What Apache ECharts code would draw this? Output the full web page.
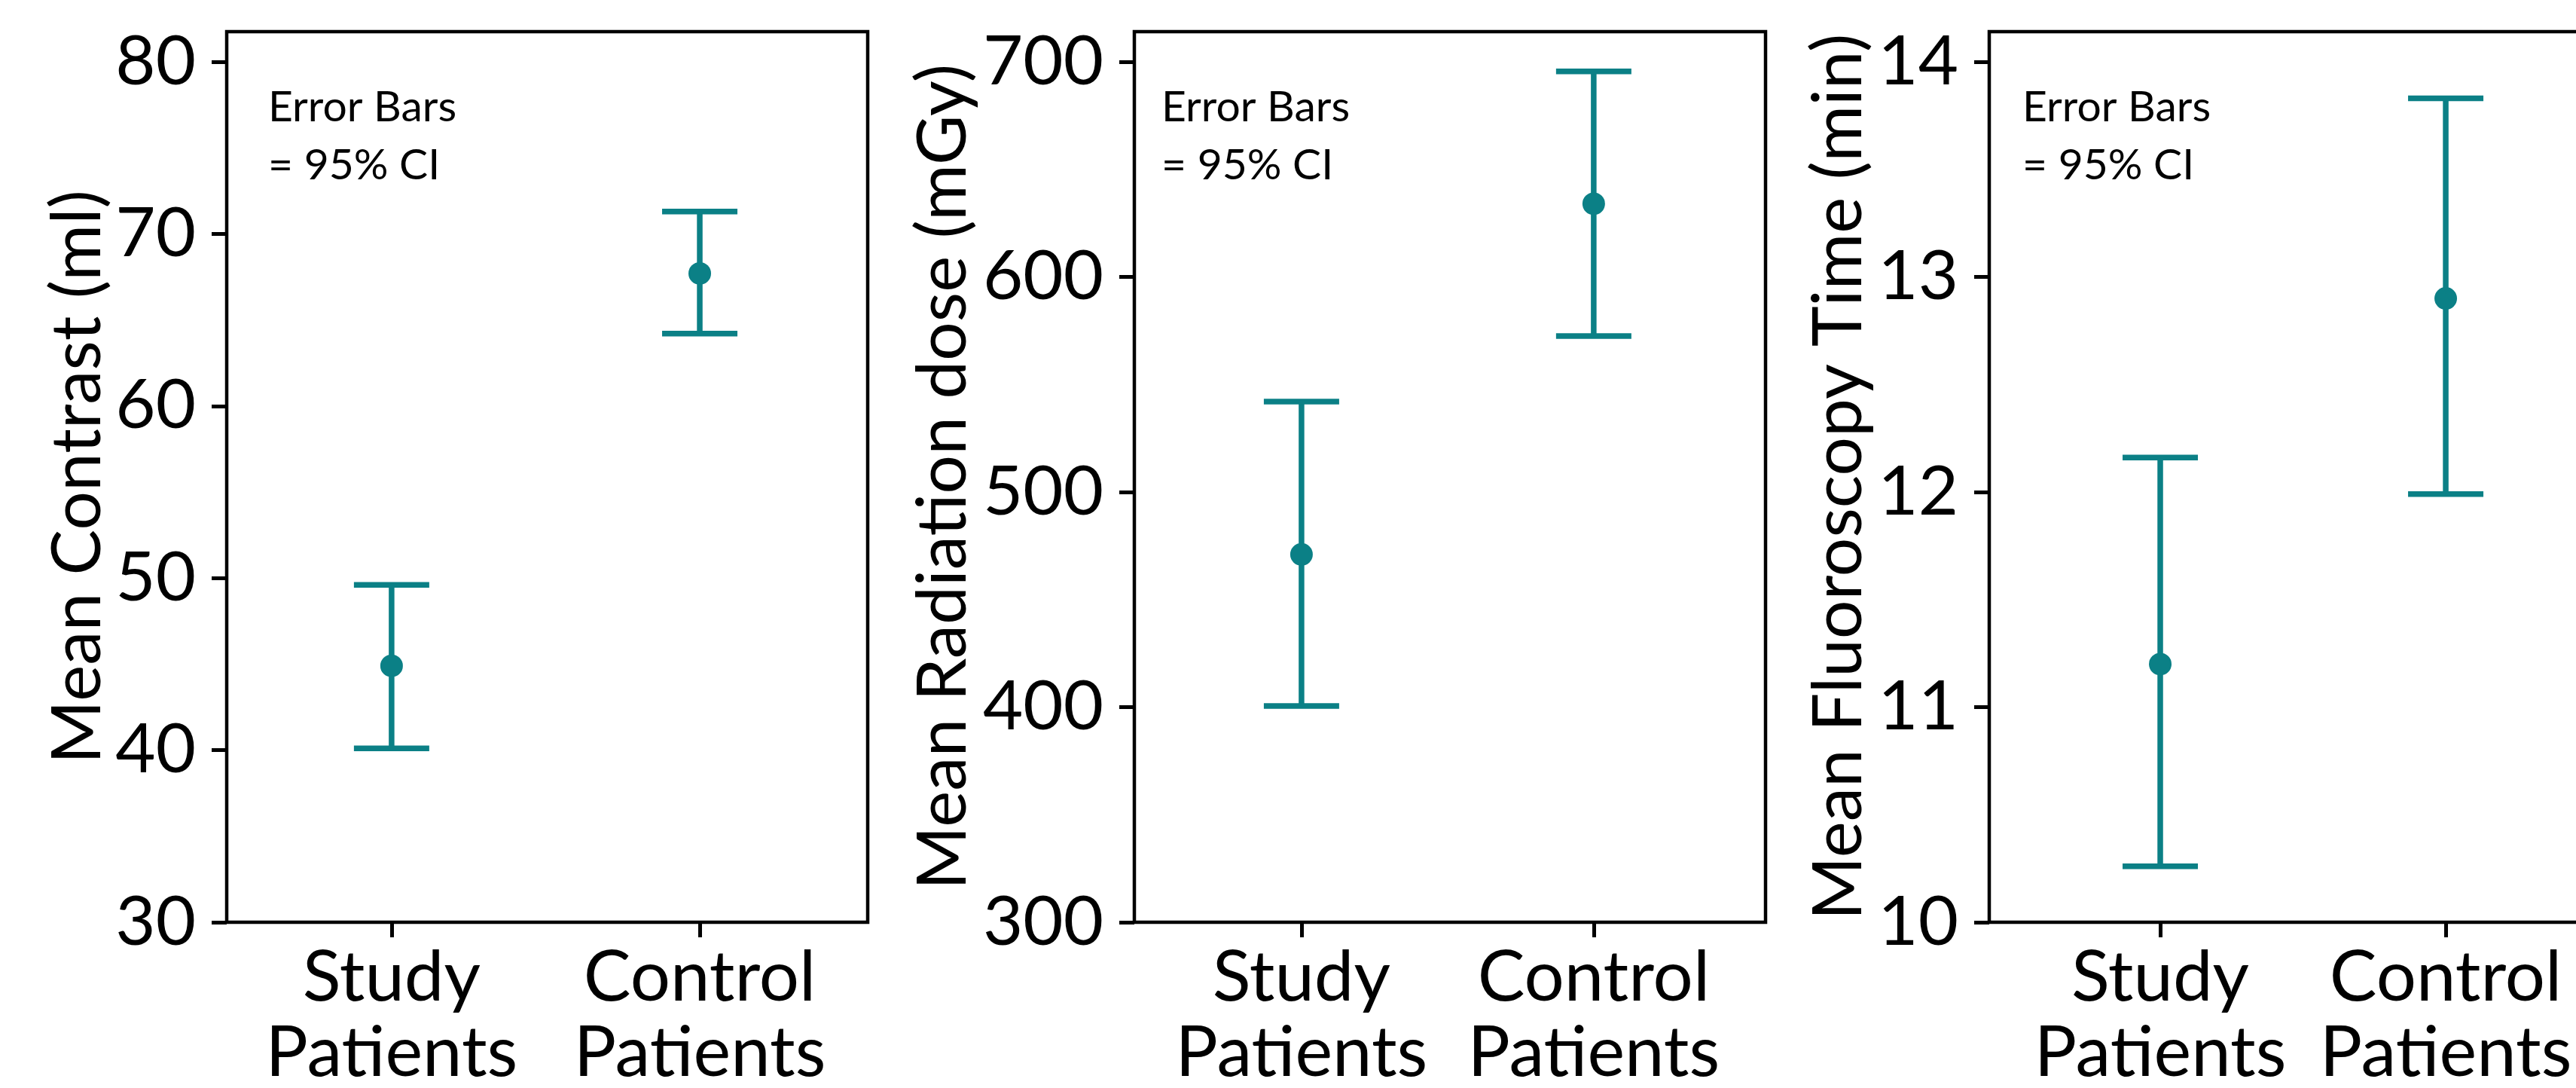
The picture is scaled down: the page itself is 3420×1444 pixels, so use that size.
<!DOCTYPE html>
<html>
<head>
<meta charset="utf-8">
<script src="https://cdn.jsdelivr.net/npm/echarts@6/dist/echarts.min.js"></script>
<style>
    html, body { margin: 0; padding: 0; background: #fff; }
    #chart { width: 3420px; height: 1444px; }
</style>
</head>
<body>
<div id="chart"></div>
<script>
// data ==========================================
const categories = ['Study\nPatients', 'Control\nPatients'];

const contrastMean = [44.9, 67.7];
const contrastLow = [40.1, 64.2];
const contrastHigh = [49.6, 71.3];
const contrastTicks = [30, 40, 50, 60, 70, 80];

const doseMean = [471, 634];
const doseLow = [400.5, 572.5];
const doseHigh = [542, 695.5];
const doseTicks = [300, 400, 500, 600, 700];

const fluoroMean = [11.2, 12.9];
const fluoroLow = [10.26, 11.99];
const fluoroHigh = [12.16, 13.83];
const fluoroTicks = [10, 11, 12, 13, 14];

const yNames = ['Mean Contrast (ml)', 'Mean Radiation dose (mGy)', 'Mean Fluoroscopy Time (min)'];
const noteText = 'Error Bars\n= 95% CI';

// style ==========================================
const TEAL = '#0b8086';
const FONT = 'Lato';
const CAP_HALF = 50;

function renderErrorBar(params, api) {
    const x = api.value(0);
    const lo = api.coord([x, api.value(1)]);
    const hi = api.coord([x, api.value(2)]);
    const style = { stroke: TEAL, lineWidth: 7.5, fill: null };
    return {
        type: 'group',
        children: [
            { type: 'line', shape: { x1: lo[0], y1: lo[1], x2: hi[0], y2: hi[1] }, style: style },
            { type: 'line', shape: { x1: hi[0] - CAP_HALF, y1: hi[1], x2: hi[0] + CAP_HALF, y2: hi[1] }, style: style },
            { type: 'line', shape: { x1: lo[0] - CAP_HALF, y1: lo[1], x2: lo[0] + CAP_HALF, y2: lo[1] }, style: style }
        ]
    };
}

// one panel = grid + axes + 2 series
function buildPanel(idx, layout, mean, low, high, ticks) {
    const grid = {
        left: layout.left, width: layout.width, top: 42, bottom: 220,
        outerBoundsMode: 'none', containLabel: false,
        show: true, borderColor: '#000', borderWidth: 4.5, backgroundColor: 'transparent'
    };
    const xAxis = {
        type: 'value', gridIndex: idx, min: layout.xMin, max: layout.xMax,
        axisLine: { show: false, onZero: false },
        splitLine: { show: false },
        axisTick: { show: true, customValues: [0, 1], length: 20, lineStyle: { color: '#000', width: 5 } },
        axisLabel: {
            customValues: [0, 1], margin: 24,
            formatter: v => categories[Math.round(v)] || '',
            color: '#000', fontFamily: FONT, fontSize: 94, lineHeight: 100
        }
    };
    const yAxis = {
        type: 'value', gridIndex: idx, min: layout.yMin, max: layout.yMax,
        name: yNames[idx], nameLocation: 'middle', nameGap: layout.nameGap,
        nameTextStyle: { color: '#000', fontFamily: FONT, fontSize: 91 },
        axisLine: { show: false, onZero: false },
        splitLine: { show: false },
        axisTick: { show: true, customValues: ticks, length: 20, lineStyle: { color: '#000', width: 5 } },
        axisLabel: {
            customValues: ticks, margin: 41,
            color: '#000', fontFamily: FONT, fontSize: 92
        }
    };
    const series = [{
        type: 'custom', xAxisIndex: idx, yAxisIndex: idx,
        renderItem: renderErrorBar,
        encode: { x: 0, y: [1, 2] },
        data: mean.map((m, i) => [i, low[i], high[i]]),
        z: 2
    }, {
        type: 'scatter', xAxisIndex: idx, yAxisIndex: idx,
        symbol: 'circle', symbolSize: 30,
        itemStyle: { color: TEAL, opacity: 1 },
        data: mean.map((m, i) => [i, m]),
        z: 3
    }];
    const note = {
        type: 'text', left: layout.left + layout.noteX, top: 104,
        style: {
            text: noteText, fill: '#000', font: '57px ' + FONT,
            lineHeight: 77
        }
    };
    return { grid, xAxis, yAxis, series, note };
}

const panels = [
    buildPanel(0, { left: 301, width: 851, xMin: -0.535, xMax: 1.545, yMin: 30, yMax: 81.75, nameGap: 150, noteX: 55 },
        contrastMean, contrastLow, contrastHigh, contrastTicks),
    buildPanel(1, { left: 1506, width: 838, xMin: -0.572, xMax: 1.588, yMin: 300, yMax: 714, nameGap: 208, noteX: 36 },
        doseMean, doseLow, doseHigh, doseTicks),
    buildPanel(2, { left: 2641, width: 838, xMin: -0.599, xMax: 1.612, yMin: 10, yMax: 14.14, nameGap: 154, noteX: 44 },
        fluoroMean, fluoroLow, fluoroHigh, fluoroTicks)
];

const chart = echarts.init(document.getElementById('chart'));
chart.setOption({
    animation: false,
    backgroundColor: '#fff',
    grid: panels.map(p => p.grid),
    xAxis: panels.map(p => p.xAxis),
    yAxis: panels.map(p => p.yAxis),
    series: panels.flatMap(p => p.series),
    graphic: panels.map(p => p.note)
});
</script>
</body>
</html>
